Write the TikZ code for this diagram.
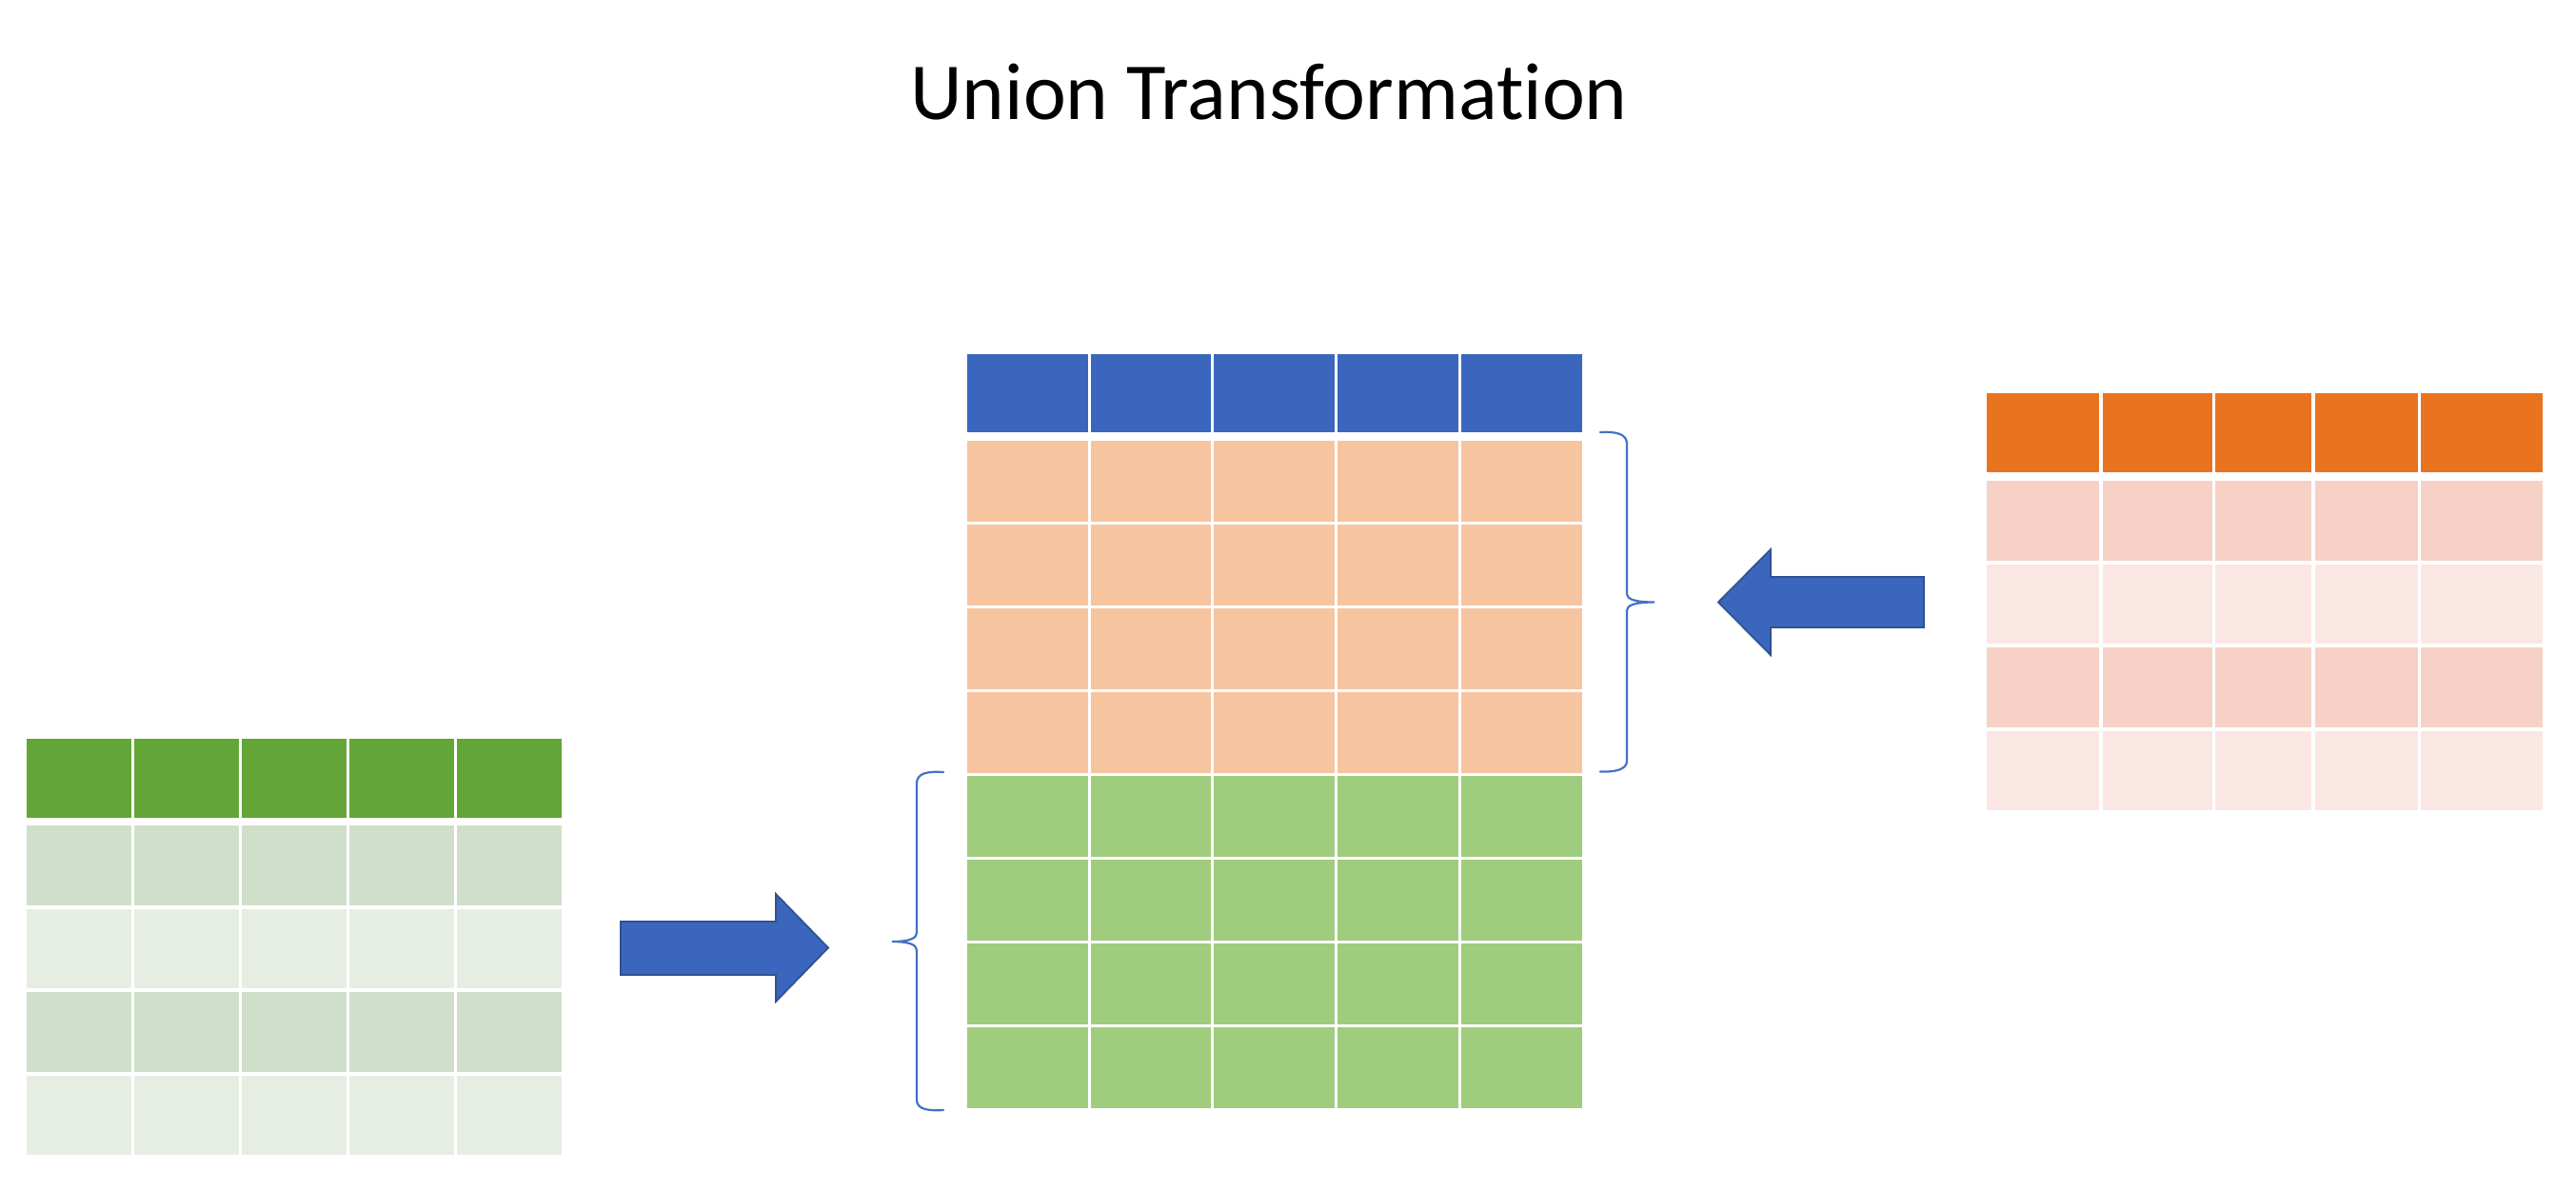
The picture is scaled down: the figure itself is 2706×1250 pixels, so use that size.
\documentclass[tikz,border=0pt]{standalone}
\usepackage{fontspec}
\setmainfont{Carlito}[Ligatures={NoCommon,NoRare}]
\definecolor{ghead}{RGB}{99,165,55}
\definecolor{gdark}{RGB}{208,223,202}
\definecolor{glight}{RGB}{230,238,227}
\definecolor{bhead}{RGB}{58,102,190}
\definecolor{omid}{RGB}{247,196,160}
\definecolor{gmid}{RGB}{160,204,126}
\definecolor{ohead}{RGB}{234,115,32}
\definecolor{pdark}{RGB}{247,209,198}
\definecolor{plight}{RGB}{250,231,227}
\definecolor{arrowfill}{RGB}{58,102,190}
\definecolor{arrowedge}{RGB}{47,82,143}
\definecolor{bracecol}{RGB}{68,114,196}
\begin{document}
\begin{tikzpicture}[x=0.5pt,y=-0.5pt,
  blockarrow/.style={fill=arrowfill,draw=arrowedge,line width=0.9pt,line join=miter},
  bracepath/.style={draw=bracecol,line width=1.1pt,line cap=round}]
\useasboundingbox[fill=white] (0,0) rectangle (2706,1250);
% title
\node[anchor=base,inner sep=0pt,font=\fontsize{42.5}{50}\selectfont] (title) at (1333,125) {Union Transformation};
% left (green) table
\foreach \i in {0,...,4}{
  \pgfmathsetmacro{\xa}{27.7+\i*113}
  \pgfmathsetmacro{\xb}{\xa+110}
  \fill[ghead] (\xa,776) rectangle (\xb,858.7);
  \foreach \j/\c in {0/gdark,1/glight,2/gdark,3/glight}{
    \pgfmathsetmacro{\ya}{867+\j*87.5}
    \pgfmathsetmacro{\yb}{\ya+83.5}
    \fill[\c] (\xa,\ya) rectangle (\xb,\yb);
  }
}
% middle (union) table
\foreach \i in {0,...,4}{
  \pgfmathsetmacro{\xa}{1016+\i*129.7}
  \pgfmathsetmacro{\xb}{\xa+126.7}
  \fill[bhead] (\xa,371.7) rectangle (\xb,454);
  \foreach \j/\c in {0/omid,1/omid,2/omid,3/omid,4/gmid,5/gmid,6/gmid,7/gmid}{
    \pgfmathsetmacro{\ya}{463+\j*88}
    \pgfmathsetmacro{\yb}{\ya+84.5}
    \fill[\c] (\xa,\ya) rectangle (\xb,\yb);
  }
}
% right (orange) table
\foreach \xa/\xb in {2086.7/2205.3,2208.6/2324,2326.8/2428.3,2431.6/2540.2,2543.1/2671}{
  \fill[ohead] (\xa,413.3) rectangle (\xb,496);
  \foreach \j/\c in {0/pdark,1/plight,2/pdark,3/plight}{
    \pgfmathsetmacro{\ya}{505+\j*87.5}
    \pgfmathsetmacro{\yb}{\ya+83.5}
    \fill[\c] (\xa,\ya) rectangle (\xb,\yb);
  }
}
% block arrows
\filldraw[blockarrow] (652,968) -- (815,968) -- (815,939) -- (870,995.5) -- (815,1052) -- (815,1024) -- (652,1024) -- cycle;
\filldraw[blockarrow] (2021,606) -- (1860,606) -- (1860,577) -- (1805,632.5) -- (1860,688) -- (1860,659) -- (2021,659) -- cycle;
% left brace
\draw[bracepath] (991,811) .. controls (974,810) and (963,812) .. (963,823)
  -- (963,980) .. controls (963,986) and (954,989) .. (937,989)
  .. controls (954,989) and (963,992) .. (963,998)
  -- (963,1155) .. controls (963,1165) and (974,1167) .. (991,1166);
% right brace
\draw[bracepath] (1681,454) .. controls (1698,453) and (1709,456) .. (1709,466)
  -- (1709,624) .. controls (1709,629.5) and (1718,632.5) .. (1738,632.5)
  .. controls (1718,632.5) and (1709,635.5) .. (1709,641)
  -- (1709,799) .. controls (1709,808) and (1698,811) .. (1681,810.5);
\end{tikzpicture}
\end{document}
